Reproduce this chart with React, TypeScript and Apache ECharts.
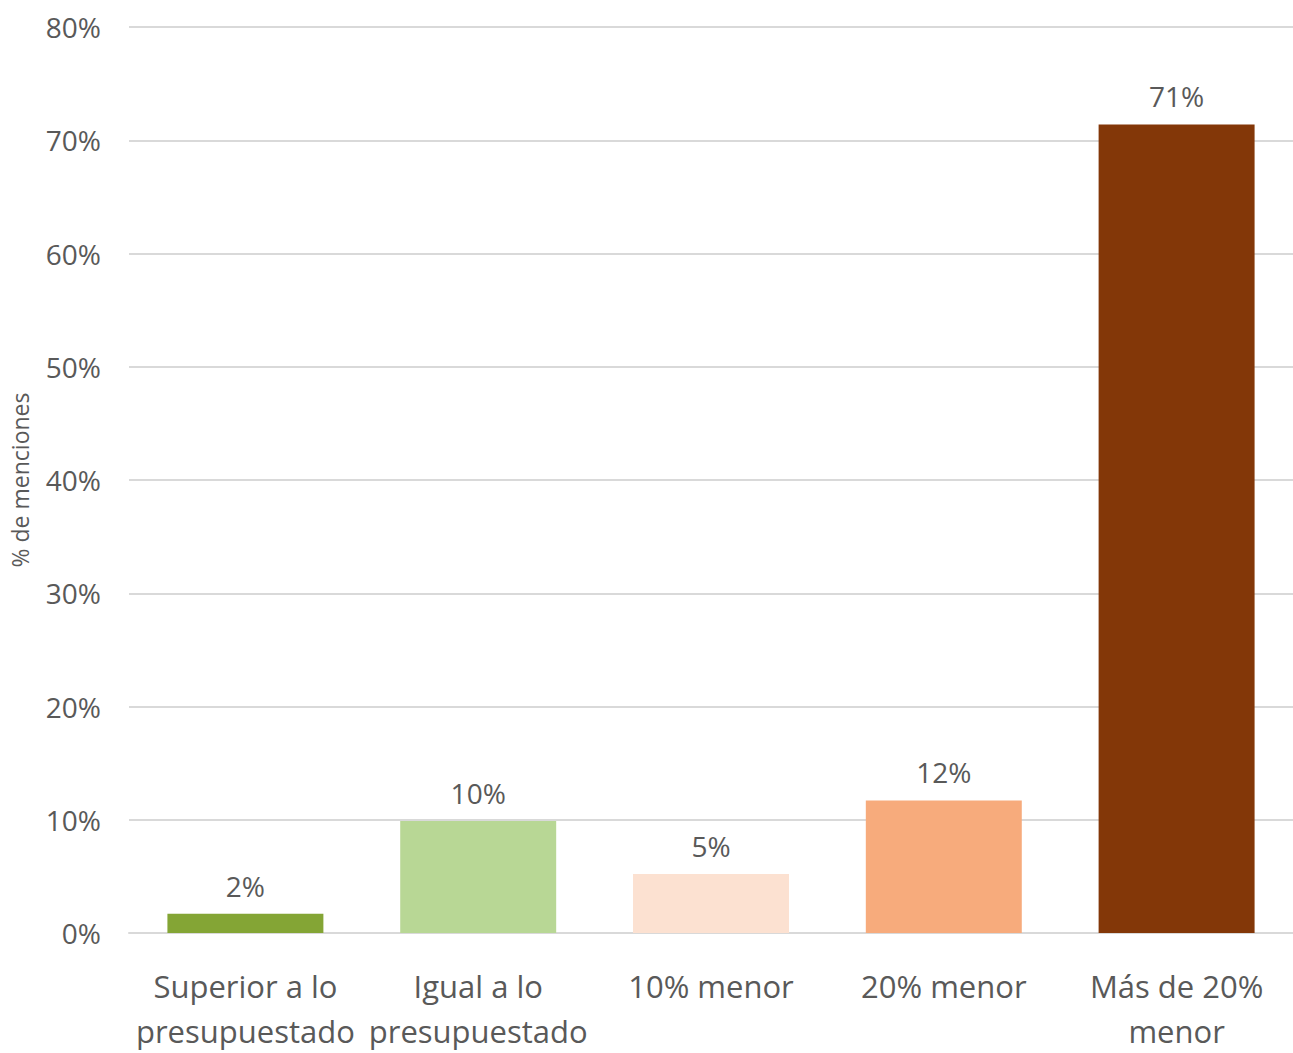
import React, { useEffect, useRef } from "react";
import * as echarts from "echarts";

const categories = ["Superior a lo\npresupuestado", "Igual a lo\npresupuestado", "10% menor", "20% menor", "Más de 20%\nmenor"];
const values = [1.7, 9.9, 5.2, 11.7, 71.4];
const colors = ["#84A535", "#B8D795", "#FCE1D1", "#F7AB7C", "#833708"];
const yTicks = [0, 10, 20, 30, 40, 50, 60, 70, 80];

const FONT = "'Open Sans', Lato, sans-serif";

export default function App() {
  const ref = useRef<HTMLDivElement>(null);
  useEffect(() => {
    if (!ref.current) return;
    const chart = echarts.init(ref.current, undefined, { renderer: "svg" });
    chart.setOption({
      animation: false,
      grid: { left: 128, right: 0, top: 27, bottom: 114, containLabel: false },
      xAxis: {
        type: "category",
        data: categories,
        axisLine: { show: true, lineStyle: { color: "#D9D9D9", width: 2 } },
        axisTick: { show: false },
        axisLabel: {
          color: "#595959",
          fontSize: 31,
          fontFamily: FONT,
          margin: 30,
          lineHeight: 45,
          interval: 0,
        },
      },
      yAxis: {
        type: "value",
        min: yTicks[0],
        max: yTicks[yTicks.length - 1],
        interval: 10,
        name: "% de menciones",
        nameLocation: "middle",
        nameGap: 98,
        nameTextStyle: { color: "#595959", fontSize: 23, fontFamily: FONT },
        axisLine: { show: false },
        axisTick: { show: false },
        splitLine: { lineStyle: { color: "#D9D9D9", width: 2 } },
        axisLabel: {
          color: "#595959",
          fontSize: 28,
          fontFamily: FONT,
          margin: 28,
          formatter: (v: number) => `${v}%`,
        },
      },
      series: [
        {
          type: "bar",
          barWidth: "67%",
          data: values.map((v, i) => ({ value: v, itemStyle: { color: colors[i] } })),
          label: {
            show: true,
            position: "top",
            distance: 14,
            color: "#595959",
            fontSize: 28,
            fontFamily: FONT,
            formatter: (p: any) => `${Math.round(p.value)}%`,
          },
        },
      ],
    });
    return () => chart.dispose();
  }, []);
  return <div ref={ref} style={{ width: 1293, height: 1053, position: "absolute", left: 0, top: 0 }} />;
}
